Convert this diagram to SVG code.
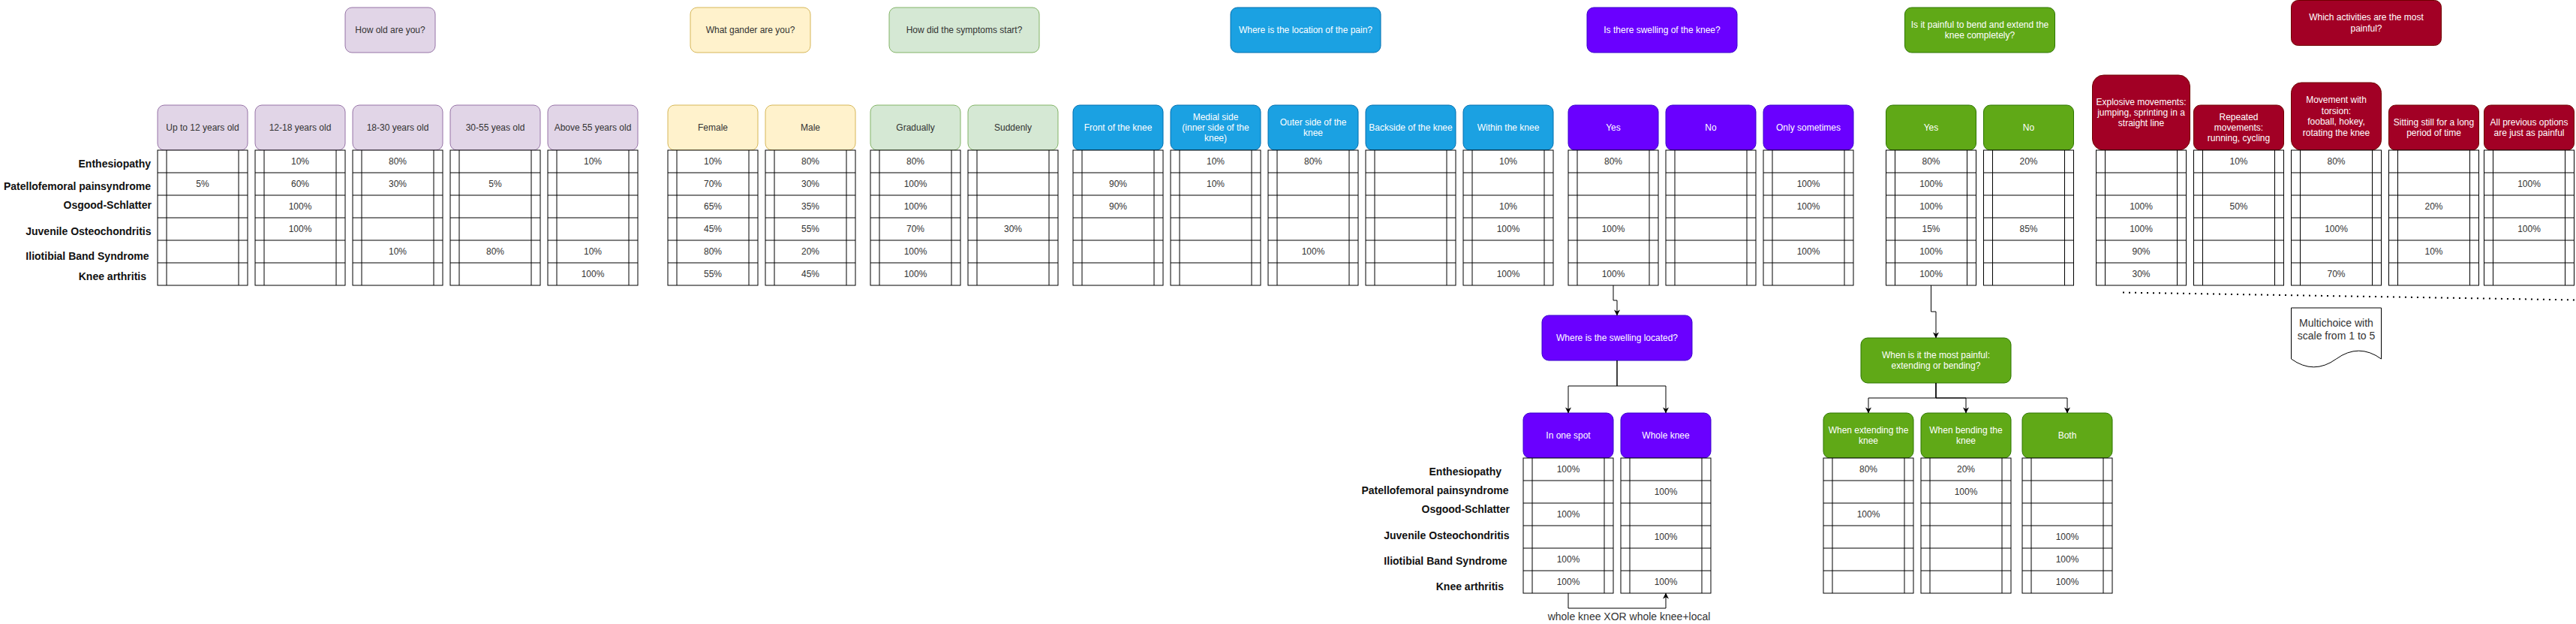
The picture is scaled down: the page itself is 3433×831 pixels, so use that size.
<svg xmlns="http://www.w3.org/2000/svg" width="3433" height="831" viewBox="0 0 3433 831">
<style>
text{font-family:"Liberation Sans",Arial,Helvetica,sans-serif;font-size:12px;text-anchor:middle}
.dk{fill:#333}
.wt{fill:#fff}
.v{fill:#333}
.lbl{font-weight:bold;font-size:14px;fill:#111;text-anchor:end}
.big{font-size:14px;fill:#333}
.cell{fill:#fff;stroke:#000;stroke-width:1}
.age{fill:#e1d5e7;stroke:#9673a6}
.gen{fill:#fff2cc;stroke:#d6b656}
.sym{fill:#d5e8d4;stroke:#82b366}
.loc{fill:#1ba1e2;stroke:#006eaf}
.swl{fill:#6a00ff;stroke:#3700cc}
.bnd{fill:#60a917;stroke:#2d7600}
.act{fill:#a20025;stroke:#6f0000}
.edge{fill:none;stroke:#000;stroke-width:1}
</style>
<defs>
<g id="tbl"><rect x="0" y="0" width="120" height="180" class="cell"/><path d="M0,30H120M0,60H120M0,90H120M0,120H120M0,150H120M12,0V180M108,0V180" class="cell"/></g>
<marker id="arr" viewBox="0 0 10 10" refX="9.5" refY="5" markerWidth="8" markerHeight="8" markerUnits="userSpaceOnUse" orient="auto"><path d="M0,0 L10,5 L0,10 L3,5 z" fill="#000"/></marker>
</defs>
<rect width="3433" height="831" fill="#fff"/>

<g id="row-labels-top">
<text class="lbl" x="201" y="223">Enthesiopathy</text>
<text class="lbl" x="201" y="253">Patellofemoral painsyndrome</text>
<text class="lbl" x="202" y="278">Osgood-Schlatter</text>
<text class="lbl" x="201.5" y="313">Juvenile Osteochondritis</text>
<text class="lbl" x="198.5" y="346">Iliotibial Band Syndrome</text>
<text class="lbl" x="195" y="373">Knee arthritis</text>
</g>
<g id="row-labels-bottom">
<text class="lbl" x="2001" y="633">Enthesiopathy</text>
<text class="lbl" x="2010.5" y="658">Patellofemoral painsyndrome</text>
<text class="lbl" x="2012" y="683">Osgood-Schlatter</text>
<text class="lbl" x="2011.5" y="718">Juvenile Osteochondritis</text>
<text class="lbl" x="2008.5" y="752">Iliotibial Band Syndrome</text>
<text class="lbl" x="2004" y="786">Knee arthritis</text>
</g>

<!-- Age -->
<g id="q-age"><rect class="age" x="460" y="10" width="120" height="60" rx="9"/><text class="dk" x="520" y="44">How old are you?</text></g>
<g id="a-age-12"><rect class="age" x="210" y="140" width="120" height="60" rx="9"/><text class="dk" x="270" y="174">Up to 12 years old</text><use href="#tbl" x="210" y="200"/>
<text class="v" x="270" y="249">5%</text></g>
<g id="a-age-12-18"><rect class="age" x="340" y="140" width="120" height="60" rx="9"/><text class="dk" x="400" y="174">12-18 years old</text><use href="#tbl" x="340" y="200"/>
<text class="v" x="400" y="219">10%</text><text class="v" x="400" y="249">60%</text><text class="v" x="400" y="279">100%</text><text class="v" x="400" y="309">100%</text></g>
<g id="a-age-18-30"><rect class="age" x="470" y="140" width="120" height="60" rx="9"/><text class="dk" x="530" y="174">18-30 years old</text><use href="#tbl" x="470" y="200"/>
<text class="v" x="530" y="219">80%</text><text class="v" x="530" y="249">30%</text><text class="v" x="530" y="339">10%</text></g>
<g id="a-age-30-55"><rect class="age" x="600" y="140" width="120" height="60" rx="9"/><text class="dk" x="660" y="174">30-55 yeas old</text><use href="#tbl" x="600" y="200"/>
<text class="v" x="660" y="249">5%</text><text class="v" x="660" y="339">80%</text></g>
<g id="a-age-55"><rect class="age" x="730" y="140" width="120" height="60" rx="9"/><text class="dk" x="790" y="174">Above 55 years old</text><use href="#tbl" x="730" y="200"/>
<text class="v" x="790" y="219">10%</text><text class="v" x="790" y="339">10%</text><text class="v" x="790" y="369">100%</text></g>

<!-- Gender -->
<g id="q-gender"><rect class="gen" x="920" y="10" width="160" height="60" rx="9"/><text class="dk" x="1000" y="44">What gander are you?</text></g>
<g id="a-female"><rect class="gen" x="890" y="140" width="120" height="60" rx="9"/><text class="dk" x="950" y="174">Female</text><use href="#tbl" x="890" y="200"/>
<text class="v" x="950" y="219">10%</text><text class="v" x="950" y="249">70%</text><text class="v" x="950" y="279">65%</text><text class="v" x="950" y="309">45%</text><text class="v" x="950" y="339">80%</text><text class="v" x="950" y="369">55%</text></g>
<g id="a-male"><rect class="gen" x="1020" y="140" width="120" height="60" rx="9"/><text class="dk" x="1080" y="174">Male</text><use href="#tbl" x="1020" y="200"/>
<text class="v" x="1080" y="219">80%</text><text class="v" x="1080" y="249">30%</text><text class="v" x="1080" y="279">35%</text><text class="v" x="1080" y="309">55%</text><text class="v" x="1080" y="339">20%</text><text class="v" x="1080" y="369">45%</text></g>

<!-- Symptoms -->
<g id="q-symptoms"><rect class="sym" x="1185" y="10" width="200" height="60" rx="9"/><text class="dk" x="1285" y="44">How did the symptoms start?</text></g>
<g id="a-gradually"><rect class="sym" x="1160" y="140" width="120" height="60" rx="9"/><text class="dk" x="1220" y="174">Gradually</text><use href="#tbl" x="1160" y="200"/>
<text class="v" x="1220" y="219">80%</text><text class="v" x="1220" y="249">100%</text><text class="v" x="1220" y="279">100%</text><text class="v" x="1220" y="309">70%</text><text class="v" x="1220" y="339">100%</text><text class="v" x="1220" y="369">100%</text></g>
<g id="a-suddenly"><rect class="sym" x="1290" y="140" width="120" height="60" rx="9"/><text class="dk" x="1350" y="174">Suddenly</text><use href="#tbl" x="1290" y="200"/>
<text class="v" x="1350" y="309">30%</text></g>

<!-- Location -->
<g id="q-location"><rect class="loc" x="1640" y="10" width="200" height="60" rx="9"/><text class="wt" x="1740" y="44">Where is the location of the pain?</text></g>
<g id="a-front"><rect class="loc" x="1430" y="140" width="120" height="60" rx="9"/><text class="wt" x="1490" y="174">Front of the knee</text><use href="#tbl" x="1430" y="200"/>
<text class="v" x="1490" y="249">90%</text><text class="v" x="1490" y="279">90%</text></g>
<g id="a-medial"><rect class="loc" x="1560" y="140" width="120" height="60" rx="9"/><text class="wt" x="1620" y="159.6">Medial side</text><text class="wt" x="1620" y="174">(inner side of the</text><text class="wt" x="1620" y="188.4">knee)</text><use href="#tbl" x="1560" y="200"/>
<text class="v" x="1620" y="219">10%</text><text class="v" x="1620" y="249">10%</text></g>
<g id="a-outer"><rect class="loc" x="1690" y="140" width="120" height="60" rx="9"/><text class="wt" x="1750" y="167">Outer side of the</text><text class="wt" x="1750" y="181.4">knee</text><use href="#tbl" x="1690" y="200"/>
<text class="v" x="1750" y="219">80%</text><text class="v" x="1750" y="339">100%</text></g>
<g id="a-backside"><rect class="loc" x="1820" y="140" width="120" height="60" rx="9"/><text class="wt" x="1880" y="174">Backside of the knee</text><use href="#tbl" x="1820" y="200"/></g>
<g id="a-within"><rect class="loc" x="1950" y="140" width="120" height="60" rx="9"/><text class="wt" x="2010" y="174">Within the knee</text><use href="#tbl" x="1950" y="200"/>
<text class="v" x="2010" y="219">10%</text><text class="v" x="2010" y="279">10%</text><text class="v" x="2010" y="309">100%</text><text class="v" x="2010" y="369">100%</text></g>

<!-- Swelling -->
<g id="q-swelling"><rect class="swl" x="2115" y="10" width="200" height="60" rx="9"/><text class="wt" x="2215" y="44">Is there swelling of the knee?</text></g>
<g id="a-sw-yes"><rect class="swl" x="2090" y="140" width="120" height="60" rx="9"/><text class="wt" x="2150" y="174">Yes</text><use href="#tbl" x="2090" y="200"/>
<text class="v" x="2150" y="219">80%</text><text class="v" x="2150" y="309">100%</text><text class="v" x="2150" y="369">100%</text></g>
<g id="a-sw-no"><rect class="swl" x="2220" y="140" width="120" height="60" rx="9"/><text class="wt" x="2280" y="174">No</text><use href="#tbl" x="2220" y="200"/></g>
<g id="a-sw-some"><rect class="swl" x="2350" y="140" width="120" height="60" rx="9"/><text class="wt" x="2410" y="174">Only sometimes</text><use href="#tbl" x="2350" y="200"/>
<text class="v" x="2410" y="249">100%</text><text class="v" x="2410" y="279">100%</text><text class="v" x="2410" y="339">100%</text></g>

<!-- Bend -->
<g id="q-bend"><rect class="bnd" x="2538.5" y="10" width="200" height="60" rx="9"/><text class="wt" x="2638.5" y="36.8">Is it painful to bend and extend the</text><text class="wt" x="2638.5" y="51.2">knee completely?</text></g>
<g id="a-bend-yes"><rect class="bnd" x="2513.5" y="140" width="120" height="60" rx="9"/><text class="wt" x="2573.5" y="174">Yes</text><use href="#tbl" x="2513.5" y="200"/>
<text class="v" x="2573.5" y="219">80%</text><text class="v" x="2573.5" y="249">100%</text><text class="v" x="2573.5" y="279">100%</text><text class="v" x="2573.5" y="309">15%</text><text class="v" x="2573.5" y="339">100%</text><text class="v" x="2573.5" y="369">100%</text></g>
<g id="a-bend-no"><rect class="bnd" x="2643.5" y="140" width="120" height="60" rx="9"/><text class="wt" x="2703.5" y="174">No</text><use href="#tbl" x="2643.5" y="200"/>
<text class="v" x="2703.5" y="219">20%</text><text class="v" x="2703.5" y="309">85%</text></g>

<!-- Activities -->
<g id="q-activities"><rect class="act" x="3053.5" y="0.5" width="200" height="60" rx="9"/><text class="wt" x="3153.5" y="27.3">Which activities are the most</text><text class="wt" x="3153.5" y="41.7">painful?</text></g>
<g id="a-explosive"><rect class="act" x="2788.5" y="100" width="130" height="100" rx="15"/><text class="wt" x="2853.5" y="139.6">Explosive movements:</text><text class="wt" x="2853.5" y="154">jumping, sprinting in a</text><text class="wt" x="2853.5" y="168.4">straight line</text><use href="#tbl" x="2793.5" y="200"/>
<text class="v" x="2853.5" y="279">100%</text><text class="v" x="2853.5" y="309">100%</text><text class="v" x="2853.5" y="339">90%</text><text class="v" x="2853.5" y="369">30%</text></g>
<g id="a-repeated"><rect class="act" x="2923.5" y="140" width="120" height="60" rx="9"/><text class="wt" x="2983.5" y="159.6">Repeated</text><text class="wt" x="2983.5" y="174">movements:</text><text class="wt" x="2983.5" y="188.4">running, cycling</text><use href="#tbl" x="2923.5" y="200"/>
<text class="v" x="2983.5" y="219">10%</text><text class="v" x="2983.5" y="279">50%</text></g>
<g id="a-torsion"><rect class="act" x="3053.5" y="110" width="120" height="90" rx="13.5"/><text class="wt" x="3113.5" y="137.4">Movement with</text><text class="wt" x="3113.5" y="151.8">torsion:</text><text class="wt" x="3113.5" y="166.2">fooball, hokey,</text><text class="wt" x="3113.5" y="180.6">rotating the knee</text><use href="#tbl" x="3053.5" y="200"/>
<text class="v" x="3113.5" y="219">80%</text><text class="v" x="3113.5" y="309">100%</text><text class="v" x="3113.5" y="369">70%</text></g>
<g id="a-sitting"><rect class="act" x="3183.5" y="140" width="120" height="60" rx="9"/><text class="wt" x="3243.5" y="167">Sitting still for a long</text><text class="wt" x="3243.5" y="181.4">period of time</text><use href="#tbl" x="3183.5" y="200"/>
<text class="v" x="3243.5" y="279">20%</text><text class="v" x="3243.5" y="339">10%</text></g>
<g id="a-all"><rect class="act" x="3310.5" y="140" width="120" height="60" rx="9"/><text class="wt" x="3370.5" y="167">All previous options</text><text class="wt" x="3370.5" y="181.4">are just as painful</text><use href="#tbl" x="3310.5" y="200"/>
<text class="v" x="3370.5" y="249">100%</text><text class="v" x="3370.5" y="309">100%</text></g>

<!-- Swelling located -->
<g id="q-swelling-loc"><rect class="swl" x="2055" y="420" width="200" height="60" rx="9"/><text class="wt" x="2155" y="454">Where is the swelling located?</text></g>
<g id="a-one-spot"><rect class="swl" x="2030" y="550" width="120" height="60" rx="9"/><text class="wt" x="2090" y="584">In one spot</text><use href="#tbl" x="2030" y="610"/>
<text class="v" x="2090" y="629">100%</text><text class="v" x="2090" y="689">100%</text><text class="v" x="2090" y="749">100%</text><text class="v" x="2090" y="779">100%</text></g>
<g id="a-whole-knee"><rect class="swl" x="2160" y="550" width="120" height="60" rx="9"/><text class="wt" x="2220" y="584">Whole knee</text><use href="#tbl" x="2160" y="610"/>
<text class="v" x="2220" y="659">100%</text><text class="v" x="2220" y="719">100%</text><text class="v" x="2220" y="779">100%</text></g>

<!-- Most painful -->
<g id="q-most-painful"><rect class="bnd" x="2480" y="450" width="200" height="60" rx="9"/><text class="wt" x="2580" y="477">When is it the most painful:</text><text class="wt" x="2580" y="491.4">extending or bending?</text></g>
<g id="a-extending"><rect class="bnd" x="2430" y="550" width="120" height="60" rx="9"/><text class="wt" x="2490" y="577">When extending the</text><text class="wt" x="2490" y="591.4">knee</text><use href="#tbl" x="2430" y="610"/>
<text class="v" x="2490" y="629">80%</text><text class="v" x="2490" y="689">100%</text></g>
<g id="a-bending"><rect class="bnd" x="2560" y="550" width="120" height="60" rx="9"/><text class="wt" x="2620" y="577">When bending the</text><text class="wt" x="2620" y="591.4">knee</text><use href="#tbl" x="2560" y="610"/>
<text class="v" x="2620" y="629">20%</text><text class="v" x="2620" y="659">100%</text></g>
<g id="a-both"><rect class="bnd" x="2695" y="550" width="120" height="60" rx="9"/><text class="wt" x="2755" y="584">Both</text><use href="#tbl" x="2695" y="610"/>
<text class="v" x="2755" y="719">100%</text><text class="v" x="2755" y="749">100%</text><text class="v" x="2755" y="779">100%</text></g>

<!-- Note -->
<g id="note-multichoice"><path d="M3053.5,410 L3173.5,410 L3173.5,478 Q3143.5,456.4 3113.5,478 Q3083.5,499.6 3053.5,478 Z" fill="#fff" stroke="#000" stroke-width="1"/><text class="big" x="3113.5" y="435">Multichoice with</text><text class="big" x="3113.5" y="452">scale from 1 to 5</text></g>
<g id="separator"><path d="M2829,389.5 L3433,399.5" fill="none" stroke="#000" stroke-width="2" stroke-dasharray="2 6"/></g>

<g id="connectors">
<path class="edge" d="M2150,380 V400 H2155 V420" marker-end="url(#arr)"/>
<path class="edge" d="M2155,480 V514 H2090 V550" marker-end="url(#arr)"/>
<path class="edge" d="M2155,480 V514 H2220 V550" marker-end="url(#arr)"/>
<path class="edge" d="M2090,790 V810 H2220 V790" marker-end="url(#arr)"/>
<path class="edge" d="M2573.5,380 V415 H2580 V450" marker-end="url(#arr)"/>
<path class="edge" d="M2580,510 V530 H2490 V550" marker-end="url(#arr)"/>
<path class="edge" d="M2580,510 V530 H2620 V550" marker-end="url(#arr)"/>
<path class="edge" d="M2580,510 V530 H2755 V550" marker-end="url(#arr)"/>
<text class="big" x="2171" y="826">whole knee XOR whole knee+local</text>
</g>
</svg>
